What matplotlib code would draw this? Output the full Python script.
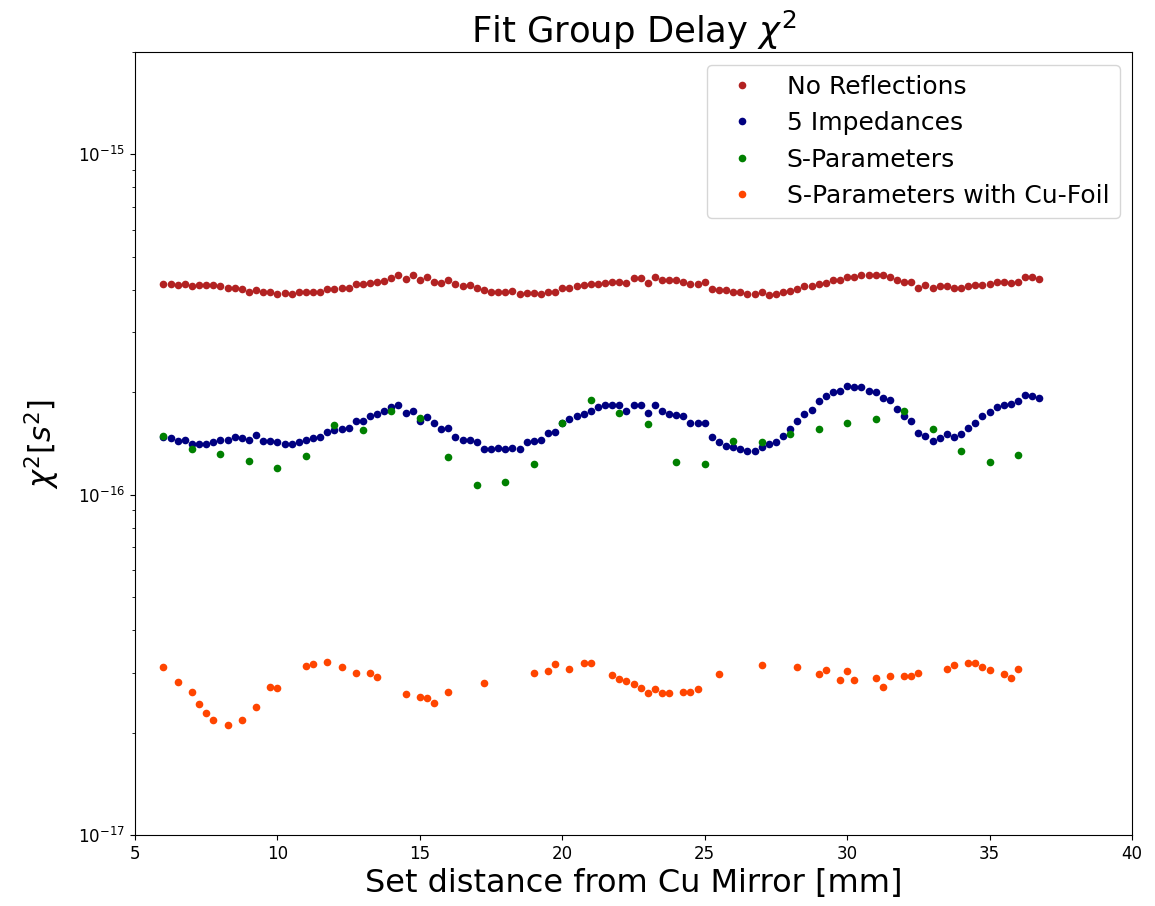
import numpy as np
import matplotlib
matplotlib.use("Agg")
import matplotlib.pyplot as plt
from matplotlib.ticker import NullFormatter

# x positions (mm)
x_dense = np.arange(6.0, 36.75 + 0.001, 0.25)

# No Reflections (units 1e-16 s^2)
no_refl = [
    4.17, 4.17, 4.14, 4.17, 4.10, 4.14, 4.14, 4.14, 4.10, 4.055, 4.055, 4.03, 3.95, 3.99, 3.95, 3.95,
    3.88, 3.91, 3.88, 3.95, 3.93, 3.95, 3.95, 4.03, 4.03, 4.055, 4.055, 4.17, 4.17, 4.19, 4.23, 4.26,
    4.34, 4.41, 4.31, 4.41, 4.27, 4.37, 4.23, 4.19, 4.27, 4.17, 4.10,
    4.14, 4.055, 3.99, 3.95, 3.95, 3.93, 3.97, 3.88, 3.91, 3.91, 3.88, 3.93, 3.93, 4.055, 4.055, 4.10,
    4.14, 4.17, 4.17, 4.19, 4.23, 4.23, 4.19, 4.34, 4.34, 4.19, 4.37, 4.27, 4.27, 4.27, 4.23, 4.17,
    4.17, 4.21, 4.01, 3.99, 3.99, 3.95, 3.93, 3.88, 3.88, 3.93, 3.85, 3.88, 3.93, 3.97, 4.03,
    4.10, 4.10, 4.17, 4.19, 4.27, 4.27, 4.37, 4.37, 4.41, 4.41, 4.41, 4.41, 4.37, 4.27, 4.23, 4.23,
    4.055, 4.14, 4.055, 4.10, 4.10, 4.055, 4.055, 4.10, 4.14, 4.14, 4.17, 4.23, 4.23, 4.19, 4.23,
    4.37, 4.37, 4.31,
]

# 5 Impedances (units 1e-16 s^2)
five_imp = [
    1.48, 1.47, 1.44, 1.45, 1.41, 1.41, 1.41, 1.43, 1.45, 1.45, 1.48, 1.47, 1.45, 1.50, 1.44, 1.44,
    1.43, 1.41, 1.41, 1.43, 1.45, 1.47, 1.48, 1.53, 1.55, 1.56, 1.57, 1.65, 1.65, 1.70, 1.73, 1.76,
    1.81, 1.83, 1.74, 1.76, 1.65, 1.69, 1.62, 1.56, 1.57, 1.48, 1.45,
    1.45, 1.43, 1.36, 1.36, 1.37, 1.36, 1.37, 1.36, 1.43, 1.44, 1.45, 1.52, 1.53, 1.63, 1.67, 1.70,
    1.73, 1.76, 1.81, 1.83, 1.83, 1.83, 1.76, 1.83, 1.83, 1.74, 1.83, 1.76, 1.73, 1.71, 1.70, 1.63,
    1.63, 1.63, 1.48, 1.43, 1.39, 1.38, 1.36, 1.34, 1.34, 1.38, 1.41, 1.43, 1.49, 1.56, 1.65,
    1.73, 1.77, 1.89, 1.95, 2.00, 2.02, 2.09, 2.07, 2.07, 2.02, 2.00, 1.93, 1.90, 1.79, 1.70, 1.65,
    1.52, 1.49, 1.44, 1.47, 1.51, 1.48, 1.51, 1.57, 1.63, 1.70, 1.75, 1.81, 1.84, 1.85, 1.89, 1.97,
    1.95, 1.92,
]

# S-Parameters (units 1e-16 s^2)
x_spar = np.arange(6, 37, 1)
s_par = [
    1.49, 1.36, 1.32, 1.26, 1.20, 1.30, 1.60, 1.55, 1.76, 1.68, 1.29, 1.07, 1.09, 1.23, 1.63, 1.90,
    1.74, 1.61, 1.25, 1.23, 1.44, 1.43, 1.51, 1.56, 1.63, 1.67, 1.76, 1.56, 1.34, 1.25, 1.31,
]

# S-Parameters with Cu-Foil (units 1e-17 s^2)
x_foil = [
    6.0, 6.5, 7.0, 7.25, 7.5, 7.75, 8.25, 8.75, 9.25, 9.75, 10.0, 11.0, 11.25, 11.75, 12.25, 12.75,
    13.25, 13.5, 14.5, 15.0, 15.25, 15.5, 16.0, 17.25, 19.0, 19.5, 19.75, 20.25, 20.75, 21.0, 21.75,
    22.0, 22.25, 22.5, 22.75, 23.0, 23.25, 23.5, 23.75, 24.25, 24.5, 24.75, 25.5, 27.0, 28.25, 29.0,
    29.25, 29.75, 30.0, 30.25, 31.0, 31.25, 31.5, 32.0, 32.25, 32.5, 33.5, 33.75, 34.25, 34.5, 34.75,
    35.0, 35.5, 35.75, 36.0,
]
s_foil = [
    3.11, 2.82, 2.63, 2.42, 2.28, 2.18, 2.10, 2.18, 2.38, 2.73, 2.70, 3.13, 3.19, 3.22, 3.11, 3.00,
    3.00, 2.92, 2.59, 2.55, 2.52, 2.44, 2.63, 2.80, 3.00, 3.03, 3.19, 3.08, 3.21, 3.21, 2.95,
    2.87, 2.84, 2.78, 2.70, 2.61, 2.68, 2.61, 2.61, 2.63, 2.63, 2.68, 2.98, 3.16, 3.11, 2.98,
    3.06, 2.85, 3.03, 2.85, 2.90, 2.73, 2.93, 2.93, 2.93, 3.00, 3.08, 3.16, 3.21, 3.21, 3.11,
    3.05, 2.98, 2.90, 3.08,
]

labels = ["No Reflections", "5 Impedances", "S-Parameters", "S-Parameters with Cu-Foil"]
colors = ["firebrick", "navy", "green", "orangered"]

fig = plt.figure(figsize=(11.55, 9.06), dpi=100)
ax = fig.add_axes([135 / 1155, 1 - 835 / 906, (1132 - 135) / 1155, (835 - 52) / 906])

ms = 5.5
ax.plot(x_dense, np.array(no_refl) * 1e-16, 'o', ms=ms, color=colors[0], label=labels[0], markeredgewidth=0)
ax.plot(x_dense, np.array(five_imp) * 1e-16, 'o', ms=ms, color=colors[1], label=labels[1], markeredgewidth=0)
ax.plot(x_spar, np.array(s_par) * 1e-16, 'o', ms=ms, color=colors[2], label=labels[2], markeredgewidth=0)
ax.plot(x_foil, np.array(s_foil) * 1e-17, 'o', ms=ms, color=colors[3], label=labels[3], markeredgewidth=0)

ax.set_yscale('log')
ax.set_ylim(1e-17, 2e-15)
ax.yaxis.set_minor_formatter(NullFormatter())
ax.set_xlim(5, 40)
ax.set_xticks(np.arange(5, 41, 5))
ax.tick_params(labelsize=12)

ax.set_title(r"Fit Group Delay $\chi^2$", fontsize=25.5)
ax.set_xlabel("Set distance from Cu Mirror [mm]", fontsize=23)
ax.set_ylabel(r"$\chi^2[s^2]$", fontsize=22, labelpad=12)
ax.legend(loc='upper right', fontsize=18, numpoints=1, markerscale=1.0)

fig.savefig("out.png", dpi=100)
